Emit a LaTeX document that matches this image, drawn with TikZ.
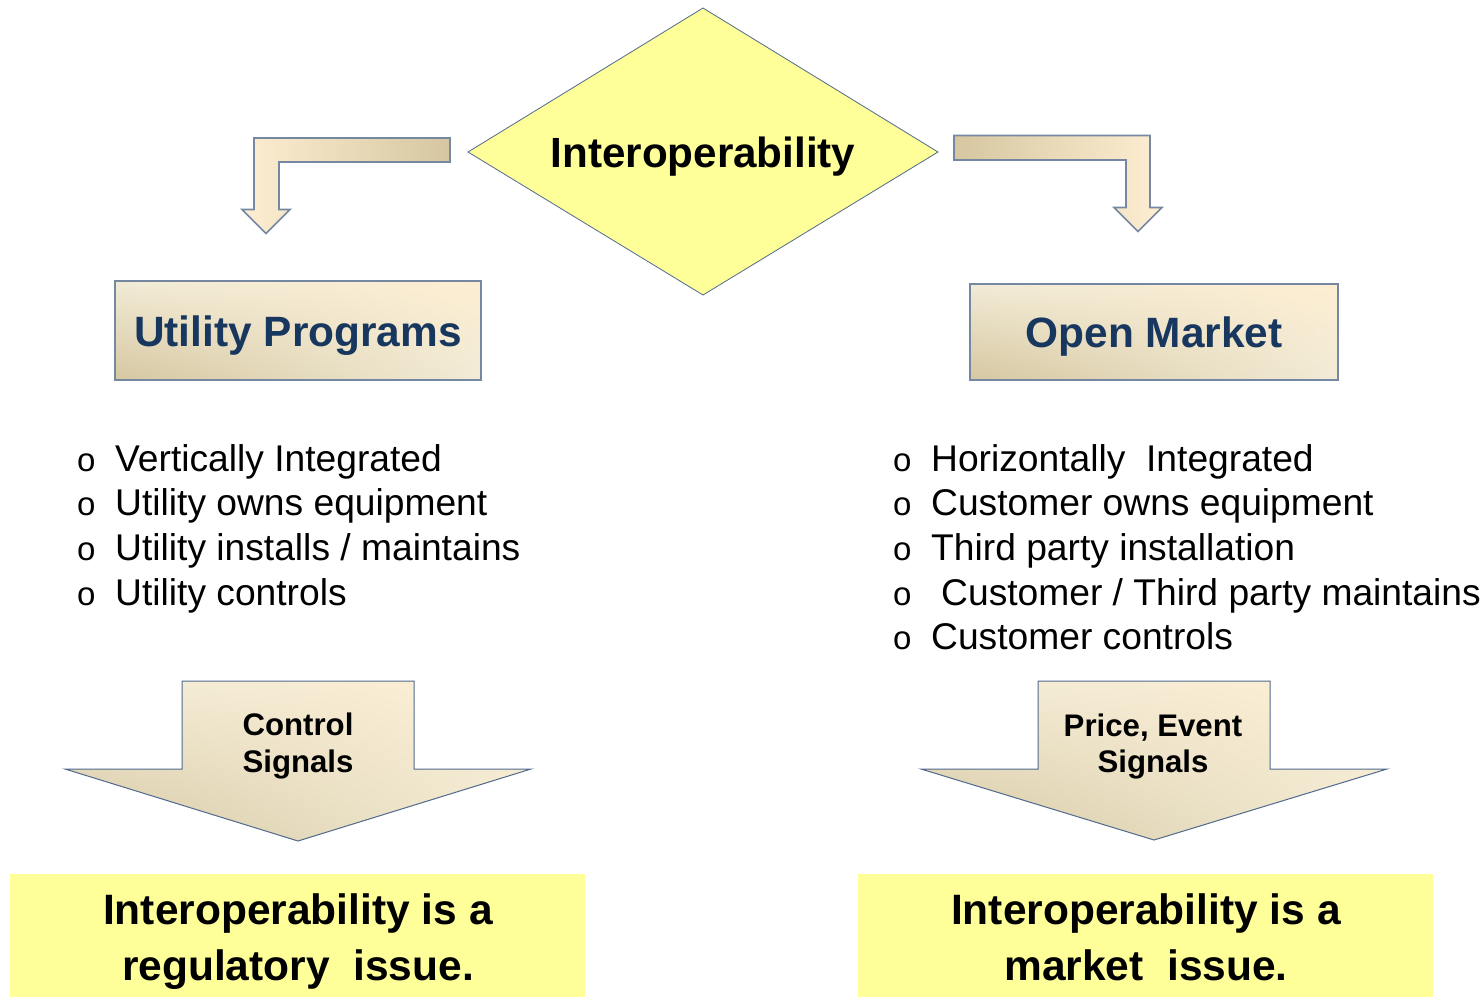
\documentclass[tikz,border=0pt]{standalone}
\usepackage{fontspec}
\setmainfont{Liberation Sans}
\usetikzlibrary{shadings}
\definecolor{tanc}{RGB}{214,199,161}
\definecolor{midc}{RGB}{241,235,214}
\definecolor{creamc}{RGB}{253,238,210}
\definecolor{boxline}{RGB}{118,135,162}
\definecolor{arrline}{RGB}{80,105,140}
\definecolor{yel}{RGB}{255,255,153}
\definecolor{navy}{RGB}{23,55,94}
\newcommand{\bul}{\makebox[38pt][l]{\fontsize{33}{33}\selectfont o}}
\tikzset{
  gradfill/.style={lower left=tanc, upper right=creamc, upper left=midc, lower right=midc},
  gradbox/.style={gradfill, draw=boxline, line width=1.6pt},
  downarrow/.style={gradfill, draw=arrline, line width=1pt, line join=miter},
  bentleft/.style={left color=creamc, middle color=midc, right color=tanc, draw=boxline, line width=1.6pt},
  bentright/.style={left color=tanc, middle color=midc, right color=creamc, draw=boxline, line width=1.6pt},
  diam/.style={fill=yel, draw=arrline, line width=0.8pt},
  yelbox/.style={fill=yel, draw=none},
  bigbold/.style={font=\fontsize{42.2}{50}\selectfont\bfseries, inner sep=0pt},
  navytitle/.style={font=\fontsize{42.4}{50}\selectfont\bfseries, text=navy, inner sep=0pt},
  bullet/.style={font=\fontsize{37.2}{44}\selectfont, inner sep=0pt, anchor=base west},
  sigtext/.style={font=\fontsize{31.2}{38}\selectfont\bfseries, inner sep=0pt, anchor=base},
  issuetext/.style={font=\fontsize{42.5}{56}\selectfont\bfseries, inner sep=0pt, anchor=base}
}
\begin{document}
\begin{tikzpicture}[x=1pt,y=-1pt]
\useasboundingbox (0,0) rectangle (1484,997);

% central diamond
\coordinate (dT) at (703,8);
\coordinate (dR) at (938,152);
\coordinate (dB) at (703,295);
\coordinate (dL) at (468,152);
\draw[diam] (dT) -- (dR) -- (dB) -- (dL) -- cycle;
\node[bigbold, anchor=base] (inter) at (703,167) {Interoperability};

% bent arrow left
\draw[bentleft] (450,138) -- (450,162) -- (279,162) -- (279,209.5) -- (290,209.5) -- (266,233.5) -- (242,209.5) -- (254,209.5) -- (254,138) -- cycle;
% bent arrow right
\draw[bentright] (954,135.5) -- (1150,135.5) -- (1150,207.5) -- (1162,207.5) -- (1138,231.5) -- (1114,207.5) -- (1126,207.5) -- (1126,160) -- (954,160) -- cycle;

% title boxes
\draw[gradbox] (115,281) rectangle (481,380);
\node[navytitle, anchor=base] (util) at (298,346) {Utility Programs};
\draw[gradbox] (970,284) rectangle (1338,380);
\node[navytitle, anchor=base] (open) at (1154,347.5) {Open Market};

% left list
\node[bullet] (l1) at (77,471) {\bul Vertically Integrated};
\node[bullet] (l2) at (77,515.7) {\bul Utility owns equipment};
\node[bullet] (l3) at (77,560.4) {\bul Utility installs / maintains};
\node[bullet] (l4) at (77,605.1) {\bul Utility controls};

% right list
\node[bullet] (r1) at (893,471) {\bul Horizontally\ \ Integrated};
\node[bullet] (r2) at (893,515.7) {\bul Customer owns equipment};
\node[bullet] (r3) at (893,560.4) {\bul Third party installation};
\node[bullet] (r4) at (893,605.1) {\bul \hspace{10pt}Customer / Third party maintains};
\node[bullet] (r5) at (893,649.8) {\bul Customer controls};

% down arrows
\draw[downarrow] (182,681) -- (414,681) -- (414,769) -- (531,769) -- (298,841) -- (65,769) -- (182,769) -- cycle;
\node[sigtext] (c1) at (298,735) {Control};
\node[sigtext] (c2) at (298,772) {Signals};

\draw[downarrow] (1038,681) -- (1270,681) -- (1270,769) -- (1387,769) -- (1154,840) -- (921,769) -- (1038,769) -- cycle;
\node[sigtext] (p1) at (1153,736) {Price, Event};
\node[sigtext] (p2) at (1153,772) {Signals};

% bottom yellow boxes
\fill[yelbox] (10,874) rectangle (585,997);
\node[issuetext] (i1) at (298,924) {Interoperability is a};
\node[issuetext] (i2) at (298,980) {regulatory\ \ issue.};
\fill[yelbox] (858,874) rectangle (1433,997);
\node[issuetext] (m1) at (1146,924) {Interoperability is a};
\node[issuetext] (m2) at (1146,980) {market\ \ issue.};
\end{tikzpicture}
\end{document}
